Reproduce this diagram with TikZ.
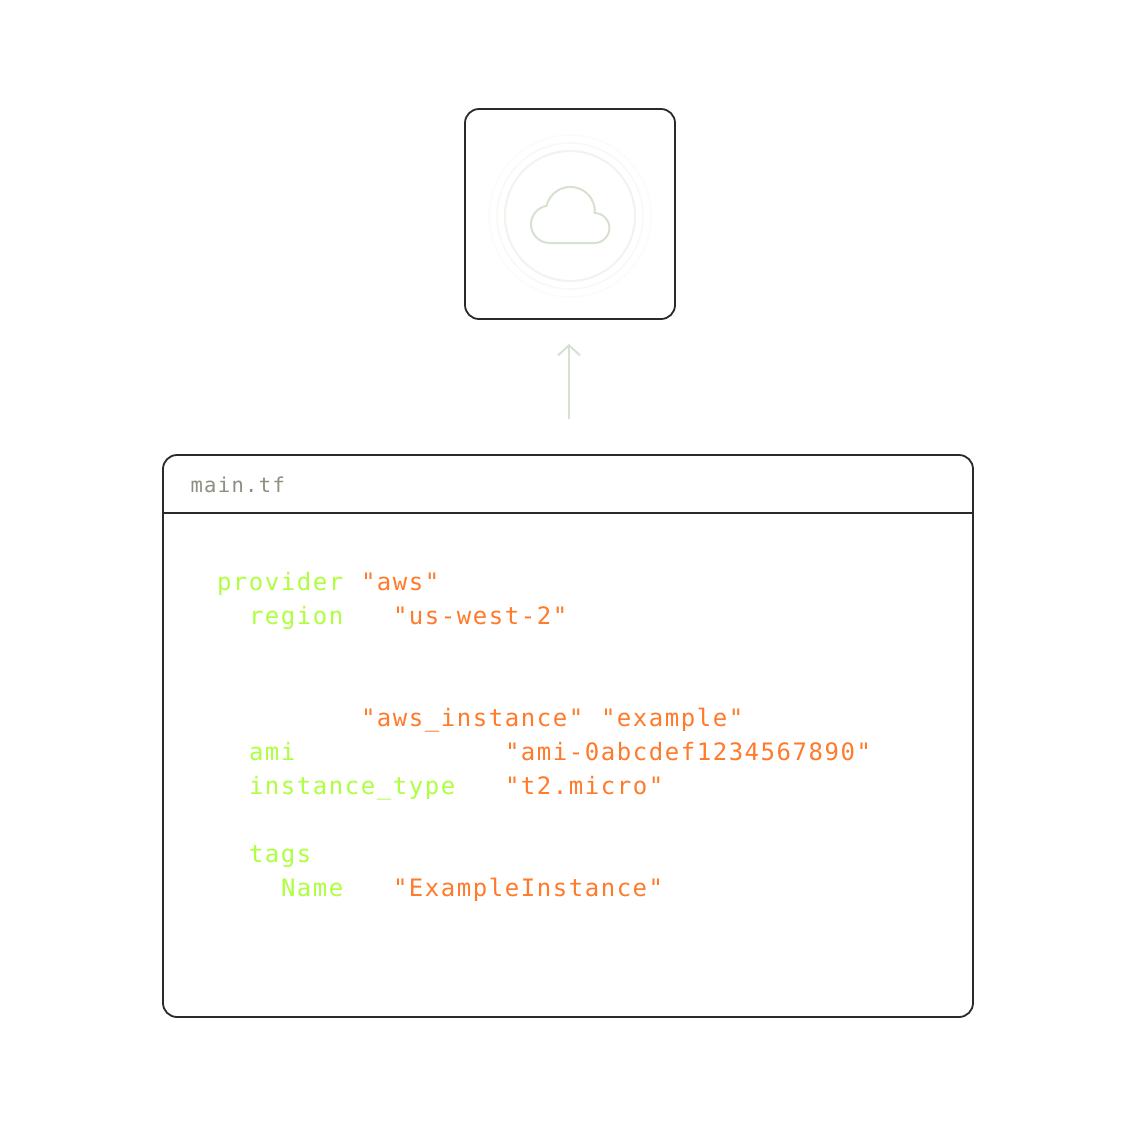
\documentclass[tikz,border=0pt]{standalone}
\usepackage{fontspec}
\usetikzlibrary{arrows.meta}
\setmonofont[LetterSpace=6.4]{DejaVu Sans Mono}
\newfontfamily\tabfont[LetterSpace=6.5]{DejaVu Sans Mono}
\definecolor{ink}{HTML}{2A2A2A}
\definecolor{sage}{HTML}{D6E1CF}
\definecolor{kw}{HTML}{ADFF3F}
\definecolor{str}{HTML}{FF7A2B}
\definecolor{tabcol}{HTML}{8B8F7F}
\tikzset{
  x=1pt,y=1pt,
  panel/.style={draw=ink,line width=1.8pt,rounded corners=14pt,inner sep=0pt,outer sep=0pt,fill=white},
  code/.style={anchor=base west,inner sep=0pt,outer sep=0pt,font=\ttfamily\fontsize{24}{24}\selectfont},
  kwd/.style={code,text=kw},
  strg/.style={code,text=str},
  tabl/.style={anchor=base west,inner sep=0pt,outer sep=0pt,text=tabcol,font=\tabfont\fontsize{20.5}{21}\selectfont},
}
\begin{document}
\begin{tikzpicture}
\useasboundingbox (0,0) rectangle (1144,-1144);
\fill[white] (0,0) rectangle (1144,-1144);
% cloud box
\node[panel,minimum width=210pt,minimum height=210pt] (box) at (570,-214) {};
\draw[color=sage!10,line width=1.5pt] (570,-216) circle[radius=81];
\draw[color=sage!20,line width=1.5pt] (570,-216) circle[radius=73];
\draw[color=sage!36,line width=2pt] (570,-216) circle[radius=65];
\draw[sage,line width=2pt,line join=round]
  (546.5,-205.9) arc[start angle=167,end angle=3,radius=24.5]
  -- (594.4,-213) arc[start angle=90,end angle=-90,radius=15]
  -- (549.7,-243) arc[start angle=270,end angle=100,radius=18.7] -- cycle;
% arrow
\coordinate (arrowfrom) at (569,-419);
\coordinate (arrowto) at (569,-344);
\draw[sage,line width=2pt,-{Straight Barb[length=10pt,width=22pt,line width=2pt]}] (arrowfrom) -- (arrowto);
% code panel
\node[panel,minimum width=810pt,minimum height=562pt] (panel) at (568,-736) {};
\coordinate (divl) at (163,-513);
\coordinate (divr) at (973,-513);
\draw[ink,line width=1.8pt] (divl) -- (divr);
\node[tabl] (tab) at (190.5,-492) {main.tf};
\node[kwd] (l1a) at (217,-590) {provider};
\node[strg] (l1b) at (361,-590) {"aws"};
\node[kwd] (l2a) at (249,-624) {region};
\node[strg] (l2b) at (393,-624) {"us-west-2"};
\node[strg] (l3b) at (361,-726) {"aws\_instance"};
\node[strg] (l3c) at (601,-726) {"example"};
\node[kwd] (l4a) at (249,-760) {ami};
\node[strg] (l4b) at (505,-760) {"ami-0abcdef1234567890"};
\node[kwd] (l5a) at (249,-794) {instance\_type};
\node[strg] (l5b) at (505,-794) {"t2.micro"};
\node[kwd] (l6a) at (249,-862) {tags};
\node[kwd] (l7a) at (281,-896) {Name};
\node[strg] (l7b) at (393,-896) {"ExampleInstance"};
\end{tikzpicture}
\end{document}
